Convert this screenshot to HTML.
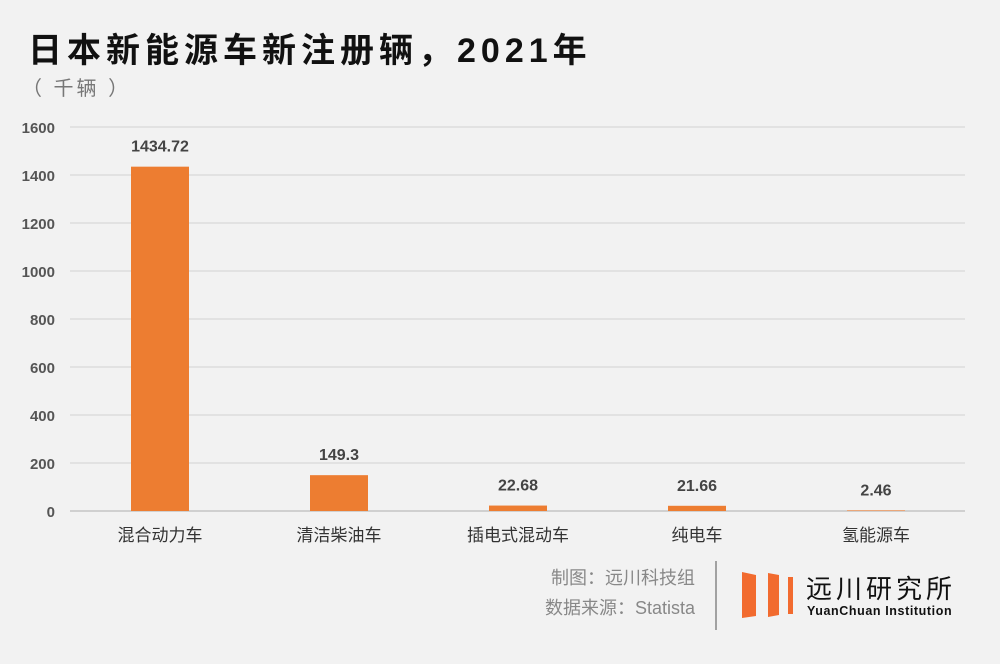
<!DOCTYPE html>
<html><head><meta charset="utf-8"><style>
body{margin:0;width:1000px;height:664px;background:#f2f2f2;overflow:hidden;font-family:"Liberation Sans","Noto Sans CJK SC",sans-serif}
svg{position:absolute;left:0;top:0}
</style></head><body>
<svg id="chart" width="1000" height="664">
<text x="28" y="62" font-size="34" font-weight="bold" fill="#111" letter-spacing="5">日本新能源车新注册辆，2021年</text>
<text x="22" y="95" font-size="20" fill="#777" letter-spacing="3">（ 千辆 ）</text>
<g id="grid"></g><g id="bars"></g>
<text x="695" y="584" font-size="18" fill="#888" text-anchor="end">制图：远川科技组</text>
<text x="695" y="614" font-size="18" fill="#888" text-anchor="end">数据来源：Statista</text>
<line x1="716" y1="561" x2="716" y2="630" stroke="#888" stroke-width="1.5"/>
<g fill="#f26b2f">
<polygon points="742,572 756,575 756,616 742,618"/>
<polygon points="768,573 779,575 779,615 768,617"/>
<polygon points="788,577 793,577 793,614 788,614"/>
</g>
<text x="806" y="598" font-size="26" fill="#111" letter-spacing="4">远川研究所</text>
<text x="807" y="615" font-size="12.5" fill="#111" font-weight="bold" letter-spacing="0.6">YuanChuan Institution</text>
</svg>
<script>
const categories=["混合动力车","清洁柴油车","插电式混动车","纯电车","氢能源车"];
const values=[1434.72,149.3,22.68,21.66,2.46];
const valueLabels=["1434.72","149.3","22.68","21.66","2.46"];
const ticks=[0,200,400,600,800,1000,1200,1400,1600];
const NS="http://www.w3.org/2000/svg";
const y=v=>511-v*384/1600;
const x=i=>160+i*179;
function mk(t,a,p){const e=document.createElementNS(NS,t);for(const k in a)e.setAttribute(k,a[k]);p.appendChild(e);return e;}
const g=document.getElementById('grid'),b=document.getElementById('bars');
ticks.forEach(t=>{
 const l=mk('line',{x1:70,x2:965,y1:y(t),y2:y(t),stroke:t===0?'#bbb':'#d9d9d9','stroke-width':1.3},g);
 
 
 const tx=mk('text',{x:55,y:y(t)+6,'font-size':15,'font-weight':'bold',fill:'#555','text-anchor':'end'},g);
 tx.textContent=t;
 
 
});
categories.forEach((c,i)=>{
 const r=mk('rect',{x:x(i)-29,y:y(values[i]),width:58,height:511-y(values[i]),fill:'#ed7d31'},b);
 
 
 const v=mk('text',{x:x(i),y:y(values[i])-15,'font-size':16,'font-weight':'bold',fill:'#444','text-anchor':'middle'},b);
 v.textContent=valueLabels[i];
 
 
 const cl=mk('text',{x:x(i),y:541,'font-size':17,fill:'#333','text-anchor':'middle'},b);
 cl.textContent=c;
 
 
});
</script>
</body></html>
